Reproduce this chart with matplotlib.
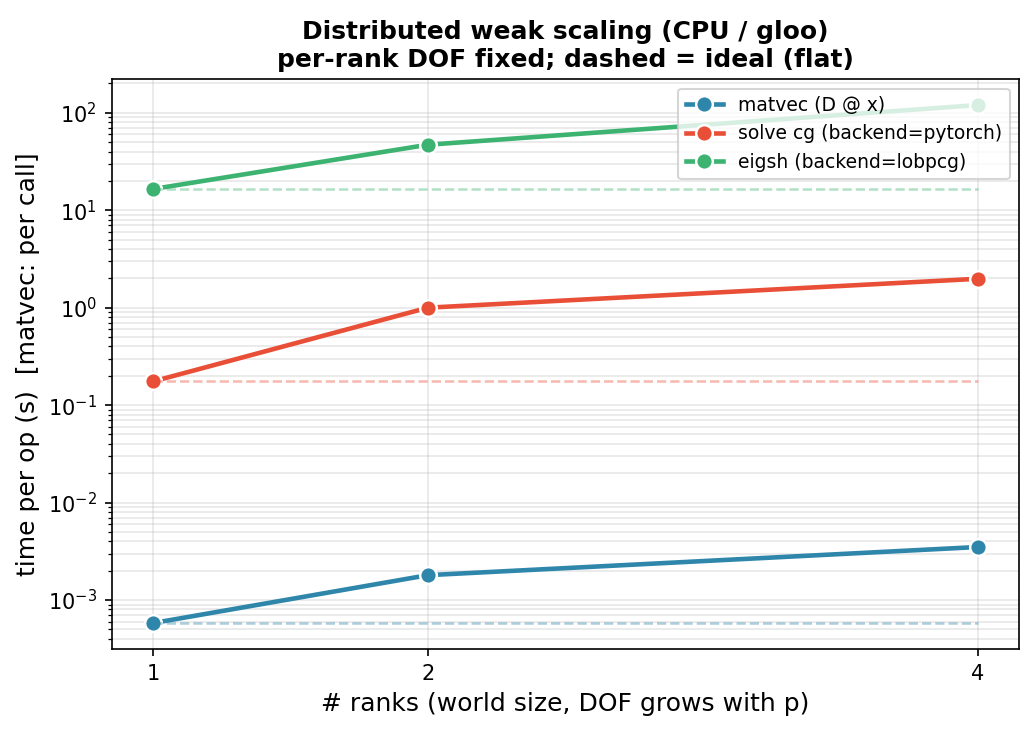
import matplotlib
matplotlib.use("Agg")
import matplotlib.pyplot as plt
import numpy as np

ranks = [1, 2, 4]
matvec = [5.8e-4, 1.8e-3, 3.5e-3]
solve = [0.175, 1.0, 1.98]
eigsh = [16.5, 47.0, 120.0]
labels = ["matvec (D @ x)", "solve cg (backend=pytorch)", "eigsh (backend=lobpcg)"]
colors = ["#2E86AB", "#E94F37", "#3CB371"]

fig, ax = plt.subplots(figsize=(1034/150, 733/150), dpi=150)
for vals, lab, c in zip([matvec, solve, eigsh], labels, colors):
    ax.plot(ranks, vals, "-o", color=c, lw=2.2, ms=8, mec="white", mew=1.2, label=lab)
    ax.plot(ranks, [vals[0]] * len(ranks), "--", color=c, lw=1.2, alpha=0.4)

ax.set_yscale("log")
ax.set_xticks(ranks)
ax.set_xticklabels([str(r) for r in ranks])
ax.grid(True, which="major", alpha=0.3)
ax.grid(True, which="minor", axis="y", alpha=0.3)
ax.set_xlabel("# ranks (world size, DOF grows with p)", fontsize=12)
ax.set_ylabel("time per op (s)  [matvec: per call]", fontsize=12)
ax.set_title("Distributed weak scaling (CPU / gloo)\nper-rank DOF fixed; dashed = ideal (flat)",
             fontsize=12, fontweight="bold")
ax.legend(loc="upper right", fontsize=9)
fig.subplots_adjust(left=0.108, right=0.9855, top=0.892, bottom=0.1146)
fig.savefig("out.png", dpi=150)
